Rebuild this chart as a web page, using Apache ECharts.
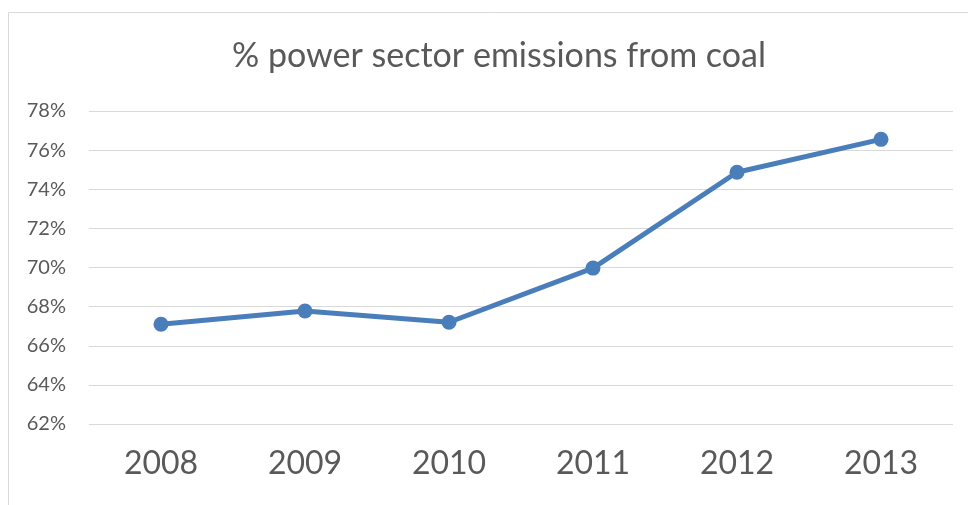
<!DOCTYPE html>
<html><head><meta charset="utf-8">
<script src="https://cdn.jsdelivr.net/npm/echarts@6/dist/echarts.min.js"></script>
<style>html,body{margin:0;padding:0;background:#fff}#c{width:968px;height:505px}</style>
</head><body><div id="c"></div>
<script>
const titleText = '% power sector emissions from coal';
const categories = ['2008','2009','2010','2011','2012','2013'];
const coalShare = [67.1, 67.78, 67.2, 69.97, 74.87, 76.55];
const yMin = 62, yMax = 78, yStep = 2;

const chart = echarts.init(document.getElementById('c'), null, {renderer:'canvas'});
chart.setOption({
  animation:false,
  backgroundColor:'#fff',
  graphic:[{type:'rect', shape:{x:8.5,y:12.5,width:1000,height:600}, style:{fill:'none',stroke:'#d9d9d9',lineWidth:1}, silent:true, z:-1}],
  title:{text:titleText, left:494, top:34, textAlign:'center',
    textStyle:{fontFamily:'Lato', fontWeight:'normal', fontSize:34, color:'#595959'}},
  grid:{left:89, right:15, top:111, bottom:81},
  xAxis:{type:'category', data:categories, boundaryGap:true,
    axisLine:{show:false}, axisTick:{show:false},
    axisLabel:{fontFamily:'Lato', fontSize:32, color:'#595959', margin:24}},
  yAxis:{type:'value', min:yMin, max:yMax, interval:yStep,
    axisLine:{show:false}, axisTick:{show:false},
    splitLine:{lineStyle:{color:'#d9d9d9', width:1}},
    axisLabel:{fontFamily:'Lato', fontSize:20, color:'#595959', margin:23, formatter:v=>v+'%'}},
  series:[{type:'line', data:coalShare, symbol:'circle', symbolSize:15,
    lineStyle:{color:'#4a7ebb', width:5}, itemStyle:{color:'#4a7ebb'}}]
});
</script></body></html>
